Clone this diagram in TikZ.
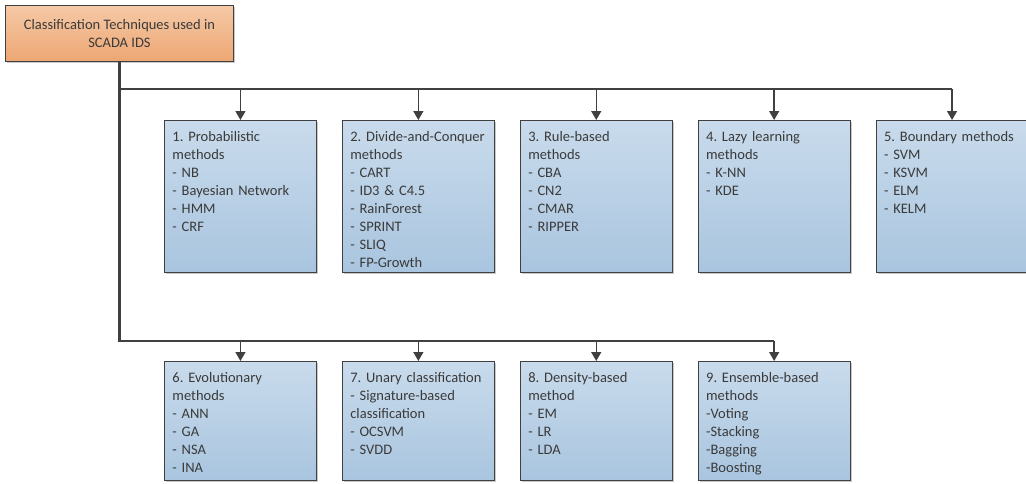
\documentclass[tikz,border=0pt]{standalone}
\usepackage{fontspec}
\setmainfont{Carlito}
\frenchspacing
\usetikzlibrary{positioning,arrows.meta,shadows}
\definecolor{linegrey}{HTML}{404040}
\definecolor{txtgrey}{HTML}{3A3A3A}
\definecolor{boxtop}{HTML}{C9DBEC}
\definecolor{boxbot}{HTML}{A9C5DF}
\definecolor{roottop}{HTML}{F5C9A6}
\definecolor{rootbot}{HTML}{EDA673}

\begin{document}
\begin{tikzpicture}[x=1pt, y=-1pt, node distance = 25pt,
font=\fontsize{14.5}{18}\selectfont,
shade/.style={drop shadow={shadow xshift=1.5pt, shadow yshift=-1.5pt, fill=black!35, opacity=.6}},
box/.style={draw=linegrey, line width=0.9pt, top color=boxtop, bottom color=boxbot, text=txtgrey, align=left, text width=136pt, inner xsep=8pt, inner ysep=6pt, text height=15pt, text depth=125pt, shade},
lowbox/.style={box, text depth=92pt},
root/.style={draw=linegrey, line width=0.9pt, top color=roottop, bottom color=rootbot, text=txtgrey, align=center, minimum width=228pt, minimum height=56pt, inner sep=0pt, shade},
bus/.style={linegrey, line width=2.4pt},
feed/.style={linegrey, line width=1.4pt, -{Triangle[width=10pt,length=9pt]}}]
\def\r{right}
\def\b{below}
\useasboundingbox (0,0) rectangle (1026,483);

\node[root, anchor=north west] (root) at (5,5) {Classification Techniques used in\\ SCADA IDS};

\node[box, anchor=north west] (Prob) at (164,120) {1. Probabilistic\\ methods\\ - NB\\ - Bayesian Network\\ - HMM\\ - CRF};
\node[box] (Divi) [\r=of Prob] {2. Divide-and-Conquer\\ methods\\ - CART\\ - ID3 \& C4.5\\ - RainForest\\ - SPRINT\\ - SLIQ\\ - FP-Growth};
\node[box] (Rule) [\r=of Divi] {3. Rule-based\\ methods\\ - CBA\\ - CN2\\ - CMAR\\ - RIPPER};
\node[box] (Lazy) [\r=of Rule] {4. Lazy learning\\ methods\\ - K-NN\\ - KDE};
\node[box] (Boun) [\r=of Lazy] {5. Boundary methods\\ - SVM\\ - KSVM\\ - ELM\\ - KELM};

\node[lowbox, anchor=north west] (Evol) at (164,361) {6. Evolutionary\\ methods\\ - ANN\\ - GA\\ - NSA\\ - INA};
\node[lowbox] (Unar) [\r=of Evol] {7. Unary classification\\ - Signature-based\\ classification\\ - OCSVM\\ - SVDD};
\node[lowbox] (Dens) [\r=of Unar] {8. Density-based\\ method\\ - EM\\ - LR\\ - LDA};
\node[lowbox] (Ense) [\r=of Dens] {9. Ensemble-based\\ methods\\ -Voting\\ -Stacking\\ -Bagging\\ -Boosting};

\coordinate[\b=27pt of root.south] (topbus);
\coordinate[\b=279pt of root.south] (lowbus);

% trunk and the two buses
\draw[bus] (root.south) -- (lowbus) -- (Ense.north |- lowbus);
\draw[bus] (topbus) -- (Boun.north |- topbus);

\draw[feed] (Prob.north |- topbus) -- (Prob.north);
\draw[feed] (Divi.north |- topbus) -- (Divi.north);
\draw[feed] (Rule.north |- topbus) -- (Rule.north);
\draw[feed] (Lazy.north |- topbus) -- (Lazy.north);
\draw[feed] (Boun.north |- topbus) -- (Boun.north);

\draw[feed] (Evol.north |- lowbus) -- (Evol.north);
\draw[feed] (Unar.north |- lowbus) -- (Unar.north);
\draw[feed] (Dens.north |- lowbus) -- (Dens.north);
\draw[feed] (Ense.north |- lowbus) -- (Ense.north);
\end{tikzpicture}
\end{document}
